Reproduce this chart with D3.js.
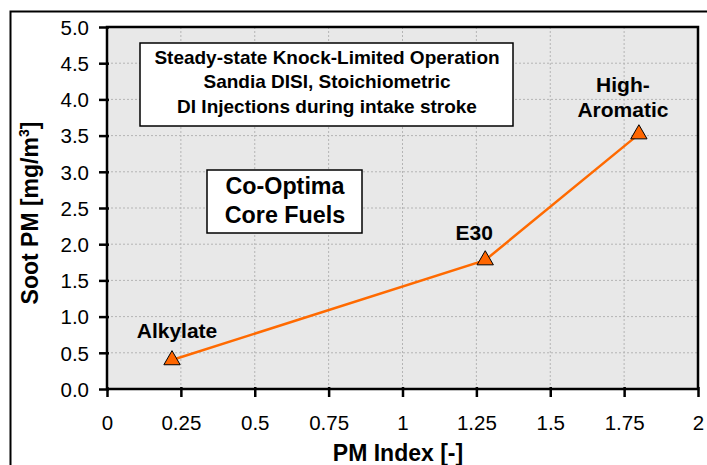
<!DOCTYPE html>
<html><head><meta charset="utf-8">
<script src="https://cdn.jsdelivr.net/npm/d3@7"></script>
<style>body{margin:0;background:#fff}svg{display:block}text{font-family:Arial,"Liberation Sans",sans-serif}</style>
</head><body><svg id="c" width="707" height="465"></svg>
<script>
const fuels = ["Alkylate", "E30", "High-Aromatic"];
const pmIndex = [0.22, 1.28, 1.80];
const sootPM = [0.40, 1.78, 3.52];
const xTicks = [0, 0.25, 0.5, 0.75, 1, 1.25, 1.5, 1.75, 2];
const xTickLabels = ["0", "0.25", "0.5", "0.75", "1", "1.25", "1.5", "1.75", "2"];
const yTicks = [0, 0.5, 1, 1.5, 2, 2.5, 3, 3.5, 4, 4.5, 5];
const infoLines = ["Steady-state Knock-Limited Operation", "Sandia DISI, Stoichiometric", "DI Injections during intake stroke"];
const groupLines = ["Co-Optima", "Core Fuels"];

const svg = d3.select("#c");
const L = 107, R = 698, T = 27, B = 389;
const x = d3.scaleLinear().domain([0, 2]).range([L, R]);
const y = d3.scaleLinear().domain([0, 5]).range([B, T]);

// outer frame
svg.append("path").attr("d", `M10.5,470 V11.5 H720`).attr("fill", "none").attr("stroke", "#000").attr("stroke-width", 2);

// plot background
svg.append("rect").attr("x", L).attr("y", T).attr("width", R - L).attr("height", B - T).attr("fill", "#e8e8e8");

// grid
svg.append("g").selectAll("line").data(xTicks.slice(1, -1)).join("line")
  .attr("x1", d => x(d)).attr("x2", d => x(d)).attr("y1", T).attr("y2", B)
  .attr("stroke", "#b4b4b4").attr("stroke-width", 1).attr("stroke-dasharray", "2,2");
svg.append("g").selectAll("line").data(yTicks.slice(1, -1)).join("line")
  .attr("x1", L).attr("x2", R).attr("y1", d => y(d)).attr("y2", d => y(d))
  .attr("stroke", "#b4b4b4").attr("stroke-width", 1).attr("stroke-dasharray", "2,2");

// plot border
svg.append("rect").attr("x", L).attr("y", T).attr("width", R - L).attr("height", B - T)
  .attr("fill", "none").attr("stroke", "#000").attr("stroke-width", 2.5);

// axes
const xAxis = d3.axisBottom(x).tickValues(xTicks).tickFormat((d, i) => xTickLabels[i]).tickSize(8).tickPadding(18);
const gx = svg.append("g").attr("transform", `translate(0,${B})`).call(xAxis);
gx.select(".domain").remove();
gx.selectAll("line").attr("stroke", "#000").attr("stroke-width", 2.5).attr("y1", -2).attr("y2", 8);
gx.selectAll("text").attr("font-size", 20.5).attr("fill", "#000");

const yAxis = d3.axisLeft(y).tickValues(yTicks).tickFormat(d3.format(".1f")).tickSize(8).tickPadding(10);
const gy = svg.append("g").attr("transform", `translate(${L},0)`).call(yAxis);
gy.select(".domain").remove();
gy.selectAll("line").attr("stroke", "#000").attr("stroke-width", 2.5).attr("x1", 2).attr("x2", -8);
gy.selectAll("text").attr("font-size", 20.5).attr("fill", "#000").attr("dy", "0.36em");

// axis titles
svg.append("text").attr("x", 398).attr("y", 461).attr("text-anchor", "middle")
  .attr("font-size", 23).attr("font-weight", "bold").text("PM Index [-]");
const yt = svg.append("text").attr("transform", `translate(38,213) rotate(-90)`)
  .attr("text-anchor", "middle").attr("font-size", 23).attr("font-weight", "bold");
yt.append("tspan").text("Soot PM [mg/m");
yt.append("tspan").attr("font-size", 14).attr("dy", -9).text("3");
yt.append("tspan").attr("dy", 9).text("]");

// data line
const pts = pmIndex.map((v, i) => [x(v), y(sootPM[i])]);
svg.append("path").attr("d", d3.line()(pts)).attr("fill", "none").attr("stroke", "#ff6a00").attr("stroke-width", 2.5);
svg.append("g").selectAll("path").data(pts).join("path")
  .attr("transform", d => `translate(${d[0]},${d[1]})`)
  .attr("d", d3.symbol(d3.symbolTriangle, 115))
  .attr("fill", "#ff6600").attr("stroke", "#000").attr("stroke-width", 1);

// point labels
const lab = svg.append("g").attr("font-size", 21).attr("font-weight", "bold").attr("text-anchor", "middle");
lab.append("text").attr("x", x(pmIndex[0]) + 5).attr("y", y(sootPM[0]) - 22).text(fuels[0]);
lab.append("text").attr("x", x(pmIndex[1]) - 11).attr("y", y(sootPM[1]) - 20).text(fuels[1]);
lab.append("text").attr("x", x(pmIndex[2]) - 16).attr("y", y(sootPM[2]) - 42.5).text("High-");
lab.append("text").attr("x", x(pmIndex[2]) - 16).attr("y", y(sootPM[2]) - 17).text("Aromatic");

// info box
svg.append("rect").attr("x", 140).attr("y", 43).attr("width", 373).attr("height", 83)
  .attr("fill", "#fff").attr("stroke", "#000").attr("stroke-width", 1.5);
svg.append("g").attr("font-size", 19).attr("font-weight", "bold").attr("text-anchor", "middle")
  .selectAll("text").data(infoLines).join("text")
  .attr("x", 327).attr("y", (d, i) => 63.5 + i * 24.7).text(d => d);

// group box
svg.append("rect").attr("x", 207).attr("y", 170).attr("width", 155).attr("height", 63)
  .attr("fill", "#fff").attr("stroke", "#000").attr("stroke-width", 1.5);
svg.append("g").attr("font-size", 23.3).attr("font-weight", "bold").attr("text-anchor", "middle")
  .selectAll("text").data(groupLines).join("text")
  .attr("x", 285).attr("y", (d, i) => 193.5 + i * 29).text(d => d);
</script></body></html>
